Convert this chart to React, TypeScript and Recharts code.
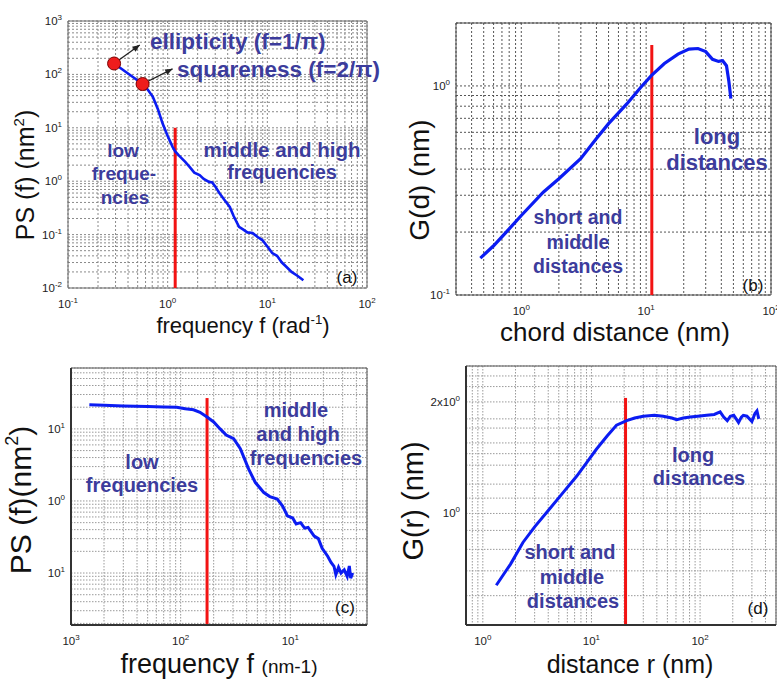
import React from "react";
import {
  CartesianGrid,
  Line,
  LineChart,
  ReferenceArea,
  ReferenceDot,
  ReferenceLine,
  XAxis,
  YAxis,
} from "recharts";

const FONT = "'Liberation Sans', Arial, Helvetica, sans-serif";
const NOTE = "#3c3c9c";
const CURVE = "#0b1cf2";
const SPLIT = "#f21313";

// (a) power spectrum vs angular frequency
const aFreq = [0.29, 0.4, 0.56, 0.63, 0.71, 0.8, 0.89, 1.0, 1.12, 1.19, 1.3, 1.5, 1.66, 1.85, 2.09, 2.3, 2.6, 2.8, 3.0, 3.3, 3.7, 4.2, 4.6, 5.2, 5.7, 6.3, 7.1, 8.0, 8.9, 10, 11.2, 12.5, 14, 15.5, 17.5, 20, 23];
const aPower = [160, 104, 66, 52, 38, 22, 12, 7, 4.4, 3.6, 3.0, 2.3, 1.85, 1.45, 1.3, 1.1, 0.97, 0.95, 0.8, 0.6, 0.45, 0.33, 0.22, 0.14, 0.125, 0.11, 0.107, 0.09, 0.079, 0.06, 0.045, 0.04, 0.03, 0.025, 0.02, 0.017, 0.014];
const aMarkFreq = [0.29, 0.56];
const aMarkPower = [160, 66];
const aArrowTipFreq = [0.525, 1.12];
const aArrowTipPower = [356, 127];
const aSplit = { x: 1.19, top: 10 };

// (b) chord distance function
const bDist = [0.47, 0.6, 0.8, 1.0, 1.5, 2, 3, 4, 5, 7, 9, 11, 14, 18, 22, 26, 30, 34, 38, 41, 44, 46, 47.7];
const bG = [0.15, 0.172, 0.207, 0.24, 0.31, 0.36, 0.45, 0.56, 0.66, 0.82, 0.98, 1.12, 1.28, 1.42, 1.5, 1.51, 1.46, 1.34, 1.31, 1.32, 1.25, 1.05, 0.87];
const bSplit = { x: 11.1, top: 1.57 };

// (c) power spectrum vs spatial frequency
const cFreq = [0.00147, 0.002, 0.003, 0.005, 0.007, 0.0092, 0.011, 0.0131, 0.015, 0.0174, 0.02, 0.0229, 0.026, 0.0304, 0.035, 0.0417, 0.048, 0.0573, 0.065, 0.076, 0.085, 0.094, 0.105, 0.113, 0.124, 0.135, 0.145, 0.165, 0.18, 0.195, 0.219, 0.235, 0.25, 0.26, 0.275, 0.29, 0.31, 0.33, 0.345, 0.355, 0.37];
const cPower = [21.6, 21.3, 20.8, 20.4, 20.2, 20, 19, 18.4, 17, 14.6, 12.5, 10, 8.2, 7.3, 5.3, 2.76, 1.8, 1.31, 1.15, 1.06, 0.85, 0.62, 0.58, 0.48, 0.5, 0.42, 0.43, 0.325, 0.3, 0.22, 0.171, 0.14, 0.124, 0.095, 0.12, 0.1, 0.111, 0.09, 0.125, 0.085, 0.1];
const cSplit = { x: 0.0174, top: 26.8 };

// (d) height-height correlation vs distance
const dDist = [1.33, 1.8, 2.34, 3, 4.13, 5.5, 7.3, 9, 11.1, 14, 17, 21.1, 25, 30, 38, 45.8, 55, 61, 70, 81, 95, 115, 135, 153, 165, 178, 190, 204, 215, 226, 240, 250, 270, 300, 320, 334, 347];
const dG = [0.64, 0.73, 0.835, 0.92, 1.03, 1.14, 1.26, 1.37, 1.49, 1.62, 1.73, 1.78, 1.81, 1.83, 1.84, 1.83, 1.81, 1.79, 1.81, 1.82, 1.83, 1.84, 1.85, 1.88, 1.82, 1.78, 1.83, 1.84, 1.8, 1.76, 1.82, 1.84, 1.83, 1.77, 1.86, 1.89, 1.8];
const dSplit = { x: 20.6, top: 2.05 };
const dGridY = [0.5, 0.6, 0.7, 0.8, 0.9, 1, 1.1, 1.2, 1.35, 1.45, 1.55, 1.7, 1.8, 2, 2.2, 2.35, 2.5];

// tick labels (as printed on the figure)
const aXLab = [0.1, 1, 10, 100];
const aXExp = ["-1", "0", "1", "2"];
const aYLab = [0.01, 0.1, 1, 10, 100, 1000];
const aYExp = ["-2", "-1", "0", "1", "2", "3"];
const bXLab = [1, 10, 100];
const bXExp = ["0", "1", "2"];
const bYLab = [0.1, 1];
const bYExp = ["-1", "0"];
const cXLab = [0.001, 0.01, 0.1];
const cXExp = ["3", "2", "1"];
const cYLab = [0.1, 1, 10];
const cYExp = ["1", "0", "1"];
const dXLab = [1, 10, 100];
const dXExp = ["0", "1", "2"];
const dYLab = [1, 2];
const dYHead = ["10", "2x10"];
const dYExp = ["0", "0"];

const YW = 70;
const XH = 40;
const M = 14;

type Plot = { x0: number; x1: number; y0: number; y1: number };

const zip = (xs: number[], ys: number[]) => xs.map((x, i) => ({ x, y: ys[i] }));

function logTicks(lo: number, hi: number) {
  const out: number[] = [];
  for (let e = Math.floor(Math.log10(lo)) - 1; e <= Math.ceil(Math.log10(hi)); e++) {
    for (let m = 1; m < 10; m++) {
      const v = +(m * Math.pow(10, e)).toPrecision(6);
      if (v >= lo * 0.9999 && v <= hi * 1.0001) out.push(v);
    }
  }
  return out;
}

function powTick(side: "x" | "y", vals: number[], exps: string[], heads?: string[]) {
  return (props: any) => {
    const { x, y, payload } = props;
    const i = vals.findIndex((v) => Math.abs(v / payload.value - 1) < 1e-6);
    if (i < 0) return <g />;
    return (
      <text x={x} y={y} textAnchor={side === "x" ? "middle" : "end"} fontFamily={FONT} fontSize={11.5} fill="#222">
        <tspan dy={side === "x" ? 20 : 4}>{heads ? heads[i] : "10"}</tspan>
        <tspan fontSize={8} dy={-5}>{exps[i]}</tspan>
      </text>
    );
  };
}

function Arrow(props: any) {
  const { x1, y1, x2, y2 } = props;
  const a = Math.atan2(y2 - y1, x2 - x1);
  const h = 8;
  const p1 = `${x2 - h * Math.cos(a - 0.4)},${y2 - h * Math.sin(a - 0.4)}`;
  const p2 = `${x2 - h * Math.cos(a + 0.4)},${y2 - h * Math.sin(a + 0.4)}`;
  return (
    <g>
      <line x1={x1} y1={y1} x2={x2} y2={y2} stroke="#222" strokeWidth={1.3} />
      <polygon points={`${x2},${y2} ${p1} ${p2}`} fill="#222" />
    </g>
  );
}

interface PanelProps {
  plot: Plot;
  data: { x: number; y: number }[];
  xDomain: [number, number];
  yDomain: [number, number];
  xGrid: number[];
  yGrid: number[];
  xTick: any;
  yTick: any;
  gridStroke: string;
  gridDash: string;
  box: string;
  axisWidth?: number;
  lineWidth: number;
  split: { x: number; top: number };
  before?: React.ReactNode;
  after?: React.ReactNode;
}

function LogPanel(p: PanelProps) {
  const left = p.plot.x0 - YW;
  const top = p.plot.y0 - M;
  const width = p.plot.x1 - p.plot.x0 + YW + M;
  const height = p.plot.y1 - p.plot.y0 + M + XH;
  const axisLine = p.axisWidth ? { stroke: "#333", strokeWidth: p.axisWidth } : false;
  return (
    <div style={{ position: "absolute", left, top }}>
      <LineChart width={width} height={height} data={p.data} margin={{ top: M, right: M, left: 0, bottom: 0 }}>
        <CartesianGrid stroke={p.gridStroke} strokeDasharray={p.gridDash} />
        <XAxis
          type="number"
          dataKey="x"
          scale="log"
          domain={p.xDomain}
          allowDataOverflow
          ticks={p.xGrid}
          interval={0}
          height={XH}
          tickSize={0}
          tickMargin={0}
          axisLine={axisLine}
          tickLine={false}
          tick={p.xTick}
        />
        <YAxis
          type="number"
          scale="log"
          domain={p.yDomain}
          allowDataOverflow
          ticks={p.yGrid}
          interval={0}
          width={YW}
          tickSize={0}
          tickMargin={6}
          axisLine={axisLine}
          tickLine={false}
          tick={p.yTick}
        />
        <ReferenceArea
          x1={p.xDomain[0]}
          x2={p.xDomain[1]}
          y1={p.yDomain[0]}
          y2={p.yDomain[1]}
          fill="none"
          stroke={p.box}
          strokeWidth={1}
          ifOverflow="visible"
        />
        {p.before}
        <ReferenceLine
          segment={[
            { x: p.split.x, y: p.split.top },
            { x: p.split.x, y: p.yDomain[0] },
          ]}
          stroke={SPLIT}
          strokeWidth={3}
          ifOverflow="visible"
        />
        <Line dataKey="y" type="linear" stroke={CURVE} strokeWidth={p.lineWidth} dot={false} activeDot={false} isAnimationActive={false} />
        {p.after}
      </LineChart>
    </div>
  );
}

function Sup({ children }: { children: React.ReactNode }) {
  return <span style={{ fontSize: "0.6em", position: "relative", top: "-0.7em" }}>{children}</span>;
}

function Txt({
  x,
  y,
  size,
  bold,
  color = "#111",
  rotate,
  align = "center",
  children,
}: {
  x: number;
  y: number;
  size: number;
  bold?: boolean;
  color?: string;
  rotate?: boolean;
  align?: "center" | "start";
  children: React.ReactNode;
}) {
  const tx = align === "center" ? "-50%" : "0";
  return (
    <div
      style={{
        position: "absolute",
        left: x,
        top: y,
        transform: `translate(${tx},-50%)${rotate ? " rotate(-90deg)" : ""}`,
        fontFamily: FONT,
        fontSize: size,
        fontWeight: bold ? 700 : 400,
        color,
        lineHeight: 1,
        whiteSpace: "nowrap",
      }}
    >
      {children}
    </div>
  );
}

export default function App() {
  return (
    <div style={{ position: "absolute", left: 0, top: 0, width: 777, height: 679, overflow: "hidden", background: "#fff" }}>
      <LogPanel
        plot={{ x0: 68, x1: 367, y0: 21, y1: 288 }}
        data={zip(aFreq, aPower)}
        xDomain={[0.1, 100]}
        yDomain={[0.01, 1000]}
        xGrid={logTicks(0.1, 100)}
        yGrid={logTicks(0.01, 1000)}
        xTick={powTick("x", aXLab, aXExp)}
        yTick={powTick("y", aYLab, aYExp)}
        gridStroke="#8a8a8a"
        gridDash="2 2"
        box="#666"
        lineWidth={2.6}
        split={aSplit}
        before={aMarkFreq.map((f, i) => (
          <ReferenceLine
            key={`arrow-${i}`}
            segment={[
              { x: f, y: aMarkPower[i] },
              { x: aArrowTipFreq[i], y: aArrowTipPower[i] },
            ]}
            ifOverflow="visible"
            shape={Arrow}
          />
        ))}
        after={aMarkFreq.map((f, i) => (
          <ReferenceDot key={`dot-${i}`} x={f} y={aMarkPower[i]} r={6.5} fill="#ee1c1c" stroke="#7a0000" strokeWidth={1} ifOverflow="visible" />
        ))}
      />
      <LogPanel
        plot={{ x0: 456, x1: 771, y0: 23, y1: 295 }}
        data={zip(bDist, bG)}
        xDomain={[0.3, 100]}
        yDomain={[0.1, 2]}
        xGrid={logTicks(0.3, 100)}
        yGrid={logTicks(0.1, 2)}
        xTick={powTick("x", bXLab, bXExp)}
        yTick={powTick("y", bYLab, bYExp)}
        gridStroke="#555"
        gridDash="2 2"
        box="#444"
        lineWidth={3.2}
        split={bSplit}
      />
      <LogPanel
        plot={{ x0: 71, x1: 367, y0: 368, y1: 625 }}
        data={zip(cFreq, cPower)}
        xDomain={[0.001, 0.5]}
        yDomain={[0.019, 70]}
        xGrid={logTicks(0.001, 0.5)}
        yGrid={logTicks(0.019, 70)}
        xTick={powTick("x", cXLab, cXExp)}
        yTick={powTick("y", cYLab, cYExp)}
        gridStroke="#9a9a9a"
        gridDash="1.5 1.5"
        box="#555"
        axisWidth={2}
        lineWidth={3}
        split={cSplit}
      />
      <LogPanel
        plot={{ x0: 466, x1: 776, y0: 366, y1: 625 }}
        data={zip(dDist, dG)}
        xDomain={[0.7, 500]}
        yDomain={[0.5, 2.5]}
        xGrid={logTicks(0.7, 500)}
        yGrid={dGridY}
        xTick={powTick("x", dXLab, dXExp)}
        yTick={powTick("y", dYLab, dYExp, dYHead)}
        gridStroke="#9a9a9a"
        gridDash="1.5 1.5"
        box="#555"
        axisWidth={2}
        lineWidth={3}
        split={dSplit}
      />

      {/* (a) */}
      <Txt x={150} y={42} size={22.5} bold color={NOTE} align="start">ellipticity (f=1/π)</Txt>
      <Txt x={177} y={70} size={22.5} bold color={NOTE} align="start">squareness (f=2/π)</Txt>
      <Txt x={123} y={150} size={19} bold color={NOTE}>low</Txt>
      <Txt x={124} y={173} size={19} bold color={NOTE}>freque-</Txt>
      <Txt x={125} y={197} size={19} bold color={NOTE}>ncies</Txt>
      <Txt x={282} y={150} size={20.5} bold color={NOTE}>middle and high</Txt>
      <Txt x={282} y={173} size={19.5} bold color={NOTE}>frequencies</Txt>
      <Txt x={347} y={277} size={17}>(a)</Txt>
      <Txt x={25} y={175} size={25} rotate>PS (f) (nm<Sup>2</Sup>)</Txt>
      <Txt x={243} y={326} size={22}>frequency f (rad<Sup>-1</Sup>)</Txt>

      {/* (b) */}
      <Txt x={717} y={137} size={22} bold color={NOTE}>long</Txt>
      <Txt x={717} y={163} size={22} bold color={NOTE}>distances</Txt>
      <Txt x={578} y={218} size={19.5} bold color={NOTE}>short and</Txt>
      <Txt x={578} y={243} size={19.5} bold color={NOTE}>middle</Txt>
      <Txt x={578} y={267} size={19.5} bold color={NOTE}>distances</Txt>
      <Txt x={753} y={285} size={17}>(b)</Txt>
      <Txt x={420} y={180} size={28} rotate>G(d) (nm)</Txt>
      <Txt x={615} y={332} size={26}>chord distance (nm)</Txt>

      {/* (c) */}
      <Txt x={296} y={410} size={20} bold color={NOTE}>middle</Txt>
      <Txt x={298} y={434} size={20} bold color={NOTE}>and high</Txt>
      <Txt x={306} y={458} size={20} bold color={NOTE}>frequencies</Txt>
      <Txt x={142} y={462} size={20} bold color={NOTE}>low</Txt>
      <Txt x={142} y={485} size={20} bold color={NOTE}>frequencies</Txt>
      <Txt x={345} y={607} size={17}>(c)</Txt>
      <Txt x={21} y={500} size={30} rotate>PS (f)(nm<Sup>2</Sup>)</Txt>
      <Txt x={219} y={664} size={27}>frequency f <span style={{ fontSize: 19 }}>(nm-1)</span></Txt>

      {/* (d) */}
      <Txt x={693} y={455} size={20} bold color={NOTE}>long</Txt>
      <Txt x={699} y={478} size={20} bold color={NOTE}>distances</Txt>
      <Txt x={570} y={552} size={20} bold color={NOTE}>short and</Txt>
      <Txt x={572} y={577} size={20} bold color={NOTE}>middle</Txt>
      <Txt x={573} y={601} size={20} bold color={NOTE}>distances</Txt>
      <Txt x={758} y={608} size={17}>(d)</Txt>
      <Txt x={413} y={501} size={29} rotate>G(r) (nm)</Txt>
      <Txt x={630} y={664} size={25}>distance r (nm)</Txt>
    </div>
  );
}
